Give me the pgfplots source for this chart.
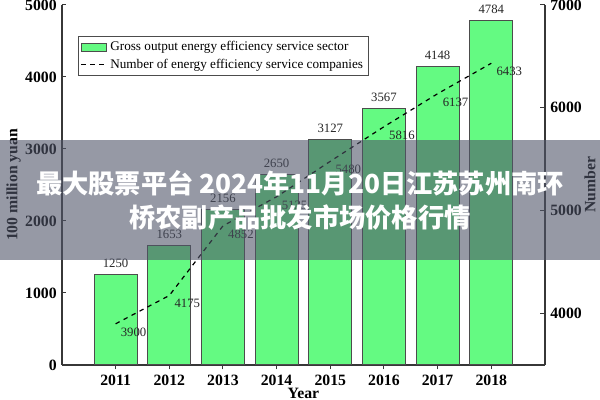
\documentclass[border=0pt]{standalone}
\usepackage{pgfplots}
\pgfplotsset{compat=1.18}
\usepackage{fontspec}
\setmainfont{Liberation Serif}
\newfontfamily\cjk{Noto Sans CJK SC}
\usetikzlibrary{calc}
\definecolor{bargreen}{RGB}{100,250,130}
\definecolor{axgray}{RGB}{55,55,55}
\definecolor{bandgray}{RGB}{80,85,105}
\begin{document}
\begin{tikzpicture}
\pgfplotsset{
  /pgf/number format/1000 sep={},
  /pgf/number format/assume math mode=true,
}
\begin{axis}[
  scale only axis, width=322pt, height=240pt,
  xmin=2010, xmax=2019, ymin=0, ymax=5000,
  axis x line*=bottom, axis y line*=left,
  axis line style={axgray, line width=0.8pt, -},
  tick align=inside, major tick length=3pt,
  tick style={axgray, line width=0.7pt},
  xtick={2011,2012,2013,2014,2015,2016,2017,2018},
  xticklabels={2011,2012,2013,2014,2015,2016,2017,2018},
  ytick={0,1000,2000,3000,4000,5000},
  tick label style={font=\fontsize{10.5}{12}\selectfont\bfseries},
  xlabel={Year}, ylabel={100 million yuan},
  label style={font=\fontsize{10.5}{12}\selectfont\bfseries},
  xlabel style={yshift=5pt},
  ylabel style={yshift=-4pt},
  ybar, bar width=0.8,
  nodes near coords,
  every node near coord/.append style={font=\fontsize{8.5}{10}\selectfont, text=black!85, yshift=1pt},
]
\addplot[fill=bargreen, draw=black!70, line width=0.6pt] coordinates {
(2011,1250) (2012,1653) (2013,2156) (2014,2650) (2015,3127) (2016,3567) (2017,4148) (2018,4784)};
\end{axis}
\begin{axis}[
  scale only axis, width=322pt, height=240pt,
  xmin=2010, xmax=2019, ymin=3500, ymax=7000,
  axis x line=none, axis y line*=right,
  axis line style={axgray, line width=0.8pt, -},
  tick align=inside, major tick length=3pt,
  tick style={axgray, line width=0.7pt},
  ytick={4000,5000,6000,7000},
  tick label style={font=\fontsize{10.5}{12}\selectfont\bfseries},
  ylabel={Number},
  label style={font=\fontsize{10.5}{12}\selectfont\bfseries},
  ylabel style={yshift=5pt},
  legend style={at={(0.033,0.914)}, anchor=north west, draw=black!70, line width=0.5pt,
    font=\fontsize{8.8}{10}\selectfont, inner sep=1.5pt, row sep=0pt},
  legend cell align=left,
]
\addlegendimage{area legend, fill=bargreen, draw=black!70}
\addlegendentry{Gross output energy efficiency service sector}
\addplot[black, line width=0.8pt, dash pattern=on 3pt off 3pt, mark=none,
  nodes near coords,
  every node near coord/.append style={anchor=center, xshift=12pt, yshift=-5.5pt,
    font=\fontsize{8.5}{10}\selectfont, text=black!85}] coordinates {
(2011,3900) (2012,4175) (2013,4852) (2014,5135) (2015,5480) (2016,5816) (2017,6137) (2018,6433)};
\addlegendentry{Number of energy efficiency service companies}
\end{axis}
\fill[bandgray, opacity=0.6] ($(current axis.north west)+(-41.3pt,-90pt)$) rectangle ($(current axis.north east)+(36.7pt,-170pt)$);
\node[text=white, font=\cjk\bfseries\fontsize{17.5}{20}\selectfont, anchor=center] at ($(current axis.north)+(-2.3pt,-118.7pt)$) {最大股票平台 2024年11月20日江苏苏州南环};
\node[text=white, font=\cjk\bfseries\fontsize{17.5}{20}\selectfont, anchor=center] at ($(current axis.north)+(-2.3pt,-142pt)$) {桥农副产品批发市场价格行情};
\pgfresetboundingbox
\path ($(current axis.south west)+(-41.3pt,-23.3pt)$) rectangle ($(current axis.north east)+(36.7pt,3.3pt)$);
\end{tikzpicture}
\end{document}
